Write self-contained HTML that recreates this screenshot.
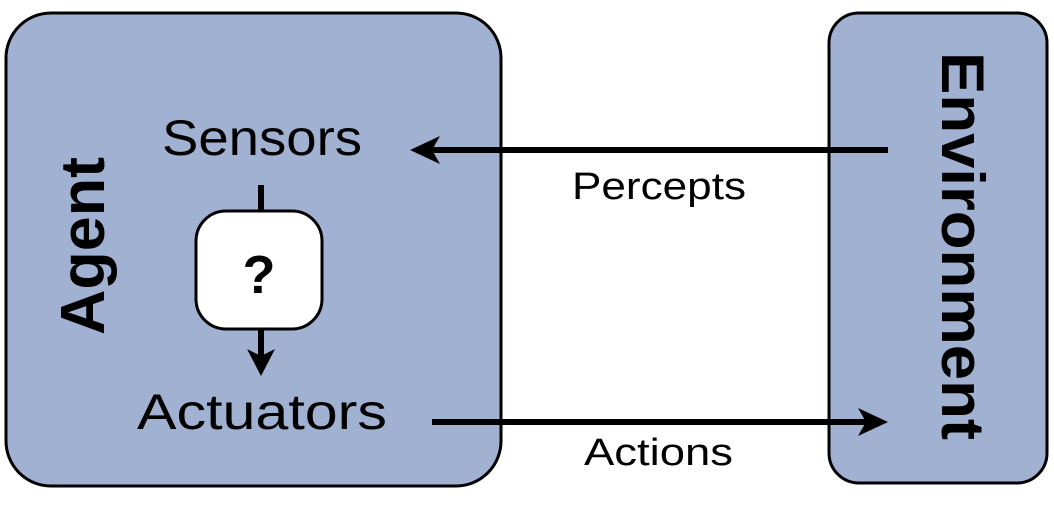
<!DOCTYPE html>
<html><head><style>html,body{margin:0;padding:0;background:#fff;width:1054px;height:531px;overflow:hidden}</style></head>
<body>
<svg width="1054" height="531" viewBox="0 0 1054 531" xmlns="http://www.w3.org/2000/svg" font-family="Liberation Sans, sans-serif">
<rect x="6" y="13" width="495" height="473" rx="45" fill="#a1b1d1" stroke="#000" stroke-width="3"/>
<rect x="829" y="13" width="218" height="470" rx="30" fill="#a1b1d1" stroke="#000" stroke-width="3"/>
<rect x="196" y="211" width="126" height="118" rx="30" fill="#fff" stroke="#000" stroke-width="3"/>
<text x="259" y="293" font-size="54" font-weight="bold" text-anchor="middle">?</text>
<line x1="261" y1="185" x2="261" y2="210" stroke="#000" stroke-width="6"/>
<line x1="261" y1="330" x2="261" y2="360" stroke="#000" stroke-width="6"/>
<path d="M247 349 L261 356 L275 349 L261 376 Z" fill="#000"/>
<text x="162" y="155" font-size="50" textLength="200" lengthAdjust="spacingAndGlyphs">Sensors</text>
<text x="137" y="429" font-size="50" textLength="250" lengthAdjust="spacingAndGlyphs">Actuators</text>
<line x1="888" y1="150" x2="425" y2="150" stroke="#000" stroke-width="6"/>
<path d="M410 150 L440 136 L432 150 L440 164 Z" fill="#000"/>
<line x1="432" y1="422" x2="872" y2="422" stroke="#000" stroke-width="6"/>
<path d="M888 422 L858 408 L866 422 L858 436 Z" fill="#000"/>
<text x="572" y="199" font-size="38" textLength="174" lengthAdjust="spacingAndGlyphs">Percepts</text>
<text x="584" y="465" font-size="38" textLength="149" lengthAdjust="spacingAndGlyphs">Actions</text>
<text transform="translate(104,335) rotate(-90)" font-size="62" font-weight="bold" textLength="178" lengthAdjust="spacingAndGlyphs">Agent</text>
<text transform="translate(942,52) rotate(90)" font-size="60" font-weight="bold" textLength="388" lengthAdjust="spacingAndGlyphs">Environment</text>
</svg>
</body></html>
